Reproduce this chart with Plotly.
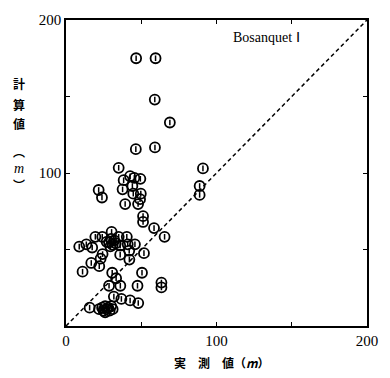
import plotly.graph_objects as go

# measured (x) vs calculated (y), metres
measured = [46.6, 59.5, 59.0, 69.0, 46.4, 59.1, 35.0, 42.6, 38.3, 45.4, 49.4, 37.6, 44.1, 44.7,
            49.7, 49.2, 47.9, 39.3, 21.7, 23.9, 51.2, 51.2, 58.5, 65.5, 91.0, 88.8, 88.8,
            19.5, 24.1, 30.3, 35.0, 40.4, 8.8, 13.5, 17.4,
            27.0, 28.6, 30.0, 31.0, 32.0, 33.0, 29.5,
            36.0, 41.0, 45.8, 42.0, 36.0, 51.8, 24.3, 23.0, 42.1, 16.8, 22.1, 11.0, 30.7,
            33.3, 50.5, 28.6, 36.1, 47.5, 63.4, 63.4, 31.8, 36.8, 42.6, 48.0, 15.7,
            22.0, 24.0, 25.0, 26.0, 27.0, 28.0, 29.0, 30.0, 31.0, 26.0]
calculated = [175.0, 175.0, 148.0, 133.0, 115.6, 116.7, 103.4, 97.9, 95.3, 96.8, 96.2, 89.3, 91.5, 86.5,
              86.5, 82.9, 79.7, 79.7, 88.9, 84.0, 71.8, 68.0, 64.0, 58.3, 103.0, 91.5, 85.7,
              58.3, 58.3, 61.5, 58.3, 58.3, 51.9, 53.4, 51.3,
              55.0, 54.7, 57.0, 53.0, 56.0, 54.0, 52.0,
              52.6, 53.4, 53.4, 49.2, 46.6, 47.6, 47.0, 44.0, 43.4, 41.2, 39.1, 35.5, 34.8,
              31.2, 34.8, 26.3, 26.3, 26.3, 28.4, 25.2, 19.2, 17.7, 16.7, 15.0, 12.0,
              11.0, 12.0, 10.0, 13.0, 11.0, 12.0, 10.0, 13.0, 11.0, 9.0]

diag = [0, 200]
tick_vals = [0, 50, 100, 150, 200]
x_tick_text = ["0", "", "100", "", "200"]
y_tick_text = ["", "", "100", "", "200"]

SERIF = "Liberation Serif"
CJK = "Noto Sans CJK JP"

fig = go.Figure()
fig.add_trace(go.Scatter(x=diag, y=diag, mode="lines",
                         line=dict(color="black", width=1.5, dash="4px,3px"),
                         hoverinfo="skip", showlegend=False))
fig.add_trace(go.Scatter(x=measured, y=calculated, mode="markers",
                         marker=dict(symbol="circle-open", size=10, color="black",
                                     line=dict(width=1.8, color="black")),
                         showlegend=False))
fig.add_trace(go.Scatter(x=measured, y=calculated, mode="markers",
                         marker=dict(symbol="line-ns-open", size=4, color="black",
                                     line=dict(width=1.5, color="black")),
                         showlegend=False))

L, R, T, B = 66, 14, 14, 52
W, H = 390, 378
pw, ph = W - L - R, H - T - B

def px(x):
    return (x - L) / pw

def py(y):
    return (H - B - y) / ph

axis_common = dict(range=[0, 200], tickvals=tick_vals, showgrid=False, zeroline=False,
                   showline=True, linecolor="black", linewidth=1.6, mirror="ticks",
                   ticks="inside", ticklen=4, tickwidth=1.2, tickcolor="black",
                   tickfont=dict(family=SERIF, size=15, color="black"),
                   fixedrange=True)

def lab(text, x, y, family=CJK, size=12):
    return dict(text=text, x=px(x), y=py(y), xref="paper", yref="paper",
                xanchor="center", yanchor="middle", showarrow=False,
                font=dict(family=family, size=size, color="black"))

fig.update_layout(
    width=W, height=H,
    margin=dict(l=L, r=R, t=T, b=B),
    paper_bgcolor="white", plot_bgcolor="white",
    xaxis=dict(ticktext=x_tick_text, **axis_common),
    yaxis=dict(ticktext=y_tick_text, **axis_common),
    annotations=[
        lab("Bosanquet Ⅰ", 272, 32, SERIF, 14),
        lab("<b>実　測　値（<i>m</i>）</b>", 227, 363, CJK, 12),
        lab("<b>計</b>", 18, 79),
        lab("<b>算</b>", 18, 100),
        lab("<b>値</b>", 18, 120),
        lab("<b>︵</b>", 18, 148),
        lab("<i>m</i>", 18, 165, SERIF, 14),
        lab("<b>︶</b>", 18, 182),
    ],
)

fig.write_html("out.html")
